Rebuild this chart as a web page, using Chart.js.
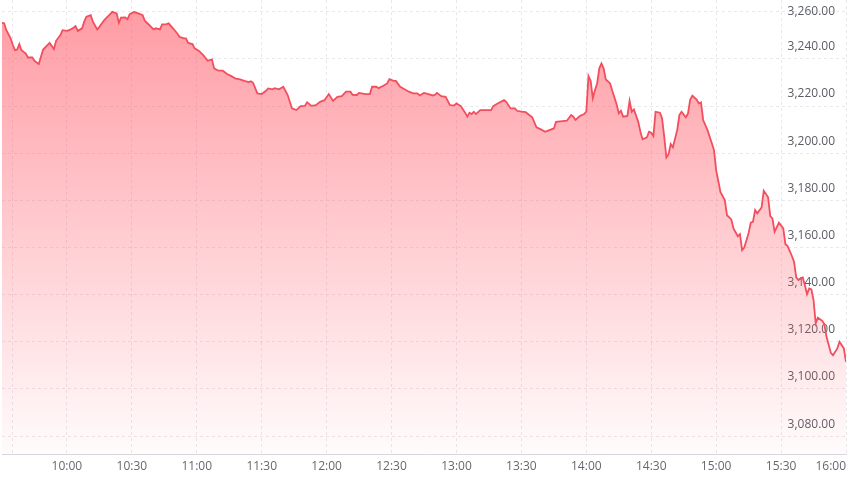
<!DOCTYPE html>
<html>
<head>
<meta charset="utf-8">
<script src="https://cdn.jsdelivr.net/npm/chart.js@4"></script>
<style>
    body { margin: 0; background: #fff; }
    #wrap { width: 848px; height: 477px; position: relative; }
</style>
</head>
<body>
<div id="wrap"><canvas id="priceChart"></canvas></div>
<script>
// minutes after the 09:30 open
var minutesFromOpen = [
    0, 1, 2, 4, 5, 6, 7, 8, 9, 11, 12, 14, 15, 17, 19, 21, 22, 24, 25, 27,
    28, 30, 31, 33, 34, 35, 37, 38, 39, 41, 42, 44, 45, 47, 48, 50, 51, 53, 54, 55,
    57, 58, 59, 61, 63, 65, 66, 68, 70, 71, 73, 74, 76, 77, 79, 81, 82, 84, 85, 86,
    88, 89, 91, 93, 95, 97, 98, 100, 102, 104, 106, 108, 110, 112, 114, 115, 116, 118, 120, 122,
    123, 125, 126, 128, 130, 132, 134, 136, 138, 140, 141, 143, 145, 147, 149, 151, 153, 155, 157, 159,
    161, 162, 164, 165, 168, 170, 171, 173, 174, 176, 178, 179, 181, 182, 184, 186, 188, 190, 192, 193,
    195, 197, 199, 200, 201, 203, 205, 207, 209, 210, 212, 214, 215, 216, 217, 218, 219, 221, 223, 226,
    227, 229, 232, 233, 235, 237, 238, 240, 242, 245, 247, 249, 251, 252, 255, 256, 259, 261, 263, 264,
    265, 267, 269, 270, 271, 272, 273, 274, 275, 276, 277, 278, 279, 281, 282, 284, 285, 286, 287, 289,
    290, 291, 292, 294, 295, 296, 298, 299, 300, 301, 302, 304, 305, 306, 307, 308, 309, 310, 312, 313,
    314, 316, 317, 318, 319, 321, 322, 323, 324, 326, 328, 329, 330, 332, 334, 335, 337, 338, 340, 341,
    342, 343, 345, 346, 347, 348, 349, 351, 352, 354, 355, 356, 357, 359, 361, 362, 363, 365, 366, 367,
    368, 370, 371, 372, 373, 374, 375, 376, 377, 379, 380, 381, 383, 384, 386, 387, 389, 390
];

var prices = [
    3255.3, 3255.1, 3252.2, 3248.7, 3245.9, 3243.7, 3244.0, 3246.3, 3243.7, 3242.3, 3240.6, 3240.6, 3239.2, 3237.8, 3244.0, 3245.9, 3246.8, 3244.2, 3247.7, 3250.1,
    3252.2, 3251.9, 3252.2, 3253.2, 3253.9, 3251.9, 3253.0, 3255.8, 3257.9, 3258.6, 3255.8, 3252.5, 3253.6, 3256.2, 3257.2, 3259.0, 3260.0, 3259.3, 3255.3, 3257.5,
    3257.6, 3256.8, 3259.0, 3259.9, 3259.3, 3258.6, 3256.2, 3254.4, 3252.5, 3253.0, 3252.5, 3254.7, 3254.8, 3255.1, 3253.0, 3250.8, 3249.4, 3248.7, 3248.7, 3246.8,
    3246.3, 3244.5, 3243.4, 3241.6, 3239.2, 3239.8, 3236.0, 3235.0, 3235.0, 3233.6, 3232.7, 3231.6, 3231.3, 3230.7, 3230.2, 3230.5, 3229.9, 3225.4, 3225.1, 3226.5,
    3227.5, 3227.1, 3227.6, 3227.1, 3228.2, 3224.7, 3219.0, 3218.3, 3220.0, 3220.1, 3221.6, 3220.1, 3220.4, 3221.8, 3222.5, 3225.1, 3222.2, 3223.9, 3224.2, 3226.1,
    3226.1, 3224.8, 3224.7, 3225.6, 3225.1, 3225.1, 3228.2, 3228.2, 3227.6, 3228.5, 3229.6, 3231.4, 3230.7, 3230.7, 3228.2, 3227.1, 3226.1, 3225.4, 3225.4, 3224.5,
    3225.6, 3225.1, 3224.5, 3224.7, 3225.6, 3224.2, 3223.9, 3220.4, 3220.3, 3221.1, 3220.0, 3217.2, 3215.5, 3217.2, 3216.6, 3217.6, 3216.6, 3218.3, 3218.3, 3218.3,
    3220.0, 3221.1, 3222.5, 3221.8, 3219.0, 3219.0, 3218.0, 3217.6, 3217.4, 3215.2, 3211.0, 3210.1, 3209.1, 3209.5, 3210.5, 3213.3, 3213.6, 3213.8, 3216.2, 3215.5,
    3214.1, 3215.8, 3216.6, 3217.6, 3232.7, 3230.7, 3223.3, 3226.8, 3229.6, 3236.0, 3238.1, 3236.0, 3231.3, 3229.6, 3226.5, 3220.8, 3216.9, 3218.0, 3215.5, 3215.8,
    3222.2, 3217.6, 3218.6, 3213.3, 3209.1, 3205.9, 3206.7, 3209.1, 3208.7, 3207.3, 3217.6, 3217.2, 3214.8, 3207.0, 3198.2, 3199.6, 3203.9, 3202.5, 3209.8, 3216.2,
    3217.6, 3215.2, 3216.9, 3222.8, 3224.4, 3222.8, 3221.1, 3221.6, 3214.1, 3209.8, 3204.2, 3201.3, 3192.8, 3183.5, 3180.1, 3173.7, 3171.9, 3168.1, 3164.8, 3165.7,
    3158.9, 3160.0, 3166.2, 3170.5, 3170.9, 3175.9, 3174.5, 3177.0, 3184.1, 3181.3, 3173.3, 3172.3, 3166.7, 3170.5, 3168.1, 3161.4, 3160.6, 3156.4, 3153.9, 3147.3,
    3146.2, 3147.3, 3144.0, 3140.2, 3142.6, 3142.2, 3137.7, 3127.8, 3130.2, 3128.9, 3127.5, 3122.1, 3115.3, 3114.3, 3117.2, 3120.0, 3117.2, 3111.5
];

// x grid positions (minutes after open); the first one carries no label
var timeTicks = [5, 30, 60, 90, 120, 150, 180, 210, 240, 270, 300, 330, 360, 390];
var priceTicks = [3080, 3100, 3120, 3140, 3160, 3180, 3200, 3220, 3240, 3260];

function clockLabel(m) {
    var total = 9 * 60 + 30 + m;
    var h = Math.floor(total / 60);
    var mm = total % 60;
    return (h < 10 ? '0' + h : h) + ':' + (mm < 10 ? '0' + mm : mm);
}

Chart.defaults.font.family = "'Open Sans', sans-serif";
Chart.defaults.font.size = 12;
Chart.defaults.color = '#5b5d66';

var ctx = document.getElementById('priceChart').getContext('2d');

var chart = new Chart(ctx, {
    type: 'line',
    data: {
        datasets: [{
            data: minutesFromOpen.map(function (m, i) { return { x: m, y: prices[i] }; }),
            borderColor: '#f24e5e',
            borderWidth: 1.8,
            pointRadius: 0,
            tension: 0,
            fill: 'start',
            backgroundColor: function (context) {
                var area = context.chart.chartArea;
                if (!area) return 'rgba(255,80,95,0.3)';
                var g = context.chart.ctx.createLinearGradient(0, area.top, 0, area.bottom);
                g.addColorStop(0, 'rgba(255, 80, 95, 0.58)');
                g.addColorStop(1, 'rgba(255, 80, 95, 0.02)');
                return g;
            }
        }]
    },
    options: {
        responsive: true,
        maintainAspectRatio: false,
        animation: false,
        layout: { padding: { left: 2, right: 2, top: 0, bottom: 0 } },
        plugins: {
            legend: { display: false },
            tooltip: { enabled: false }
        },
        scales: {
            x: {
                type: 'linear',
                min: 0,
                max: 390,
                afterBuildTicks: function (scale) {
                    scale.ticks = timeTicks.map(function (v) { return { value: v }; });
                },
                afterFit: function (scale) {
                    scale.paddingLeft = 0;
                    scale.paddingRight = 0;
                    scale.height = 23;
                },
                ticks: {
                    autoSkip: false,
                    maxRotation: 0,
                    align: 'inner',
                    padding: 5,
                    color: '#666870',
                    callback: function (value) {
                        return value % 30 === 0 ? clockLabel(value) : '';
                    }
                },
                grid: { color: '#e9e9ec', drawTicks: false },
                border: { display: true, color: '#d6d7dd', width: 1, dash: [3, 3] }
            },
            y: {
                position: 'right',
                min: 3072.4,
                max: 3265.0,
                afterBuildTicks: function (scale) {
                    scale.ticks = priceTicks.map(function (v) { return { value: v }; });
                },
                afterFit: function (scale) {
                    scale.width = 0;
                    scale.paddingTop = 0;
                    scale.paddingBottom = 0;
                },
                ticks: {
                    mirror: true,
                    padding: -11,
                    font: { size: 12, lineHeight: 1 },
                    callback: function (value) {
                        var s = value.toLocaleString('en-US', { minimumFractionDigits: 2, maximumFractionDigits: 2 });
                        // labels sit just above their grid line, except the top one
                        return value === 3260 ? s : [s, '', ''];
                    }
                },
                grid: { color: '#e9e9ec', drawTicks: false },
                border: { display: false, dash: [3, 3] }
            }
        }
    }
});
</script>
</body>
</html>
